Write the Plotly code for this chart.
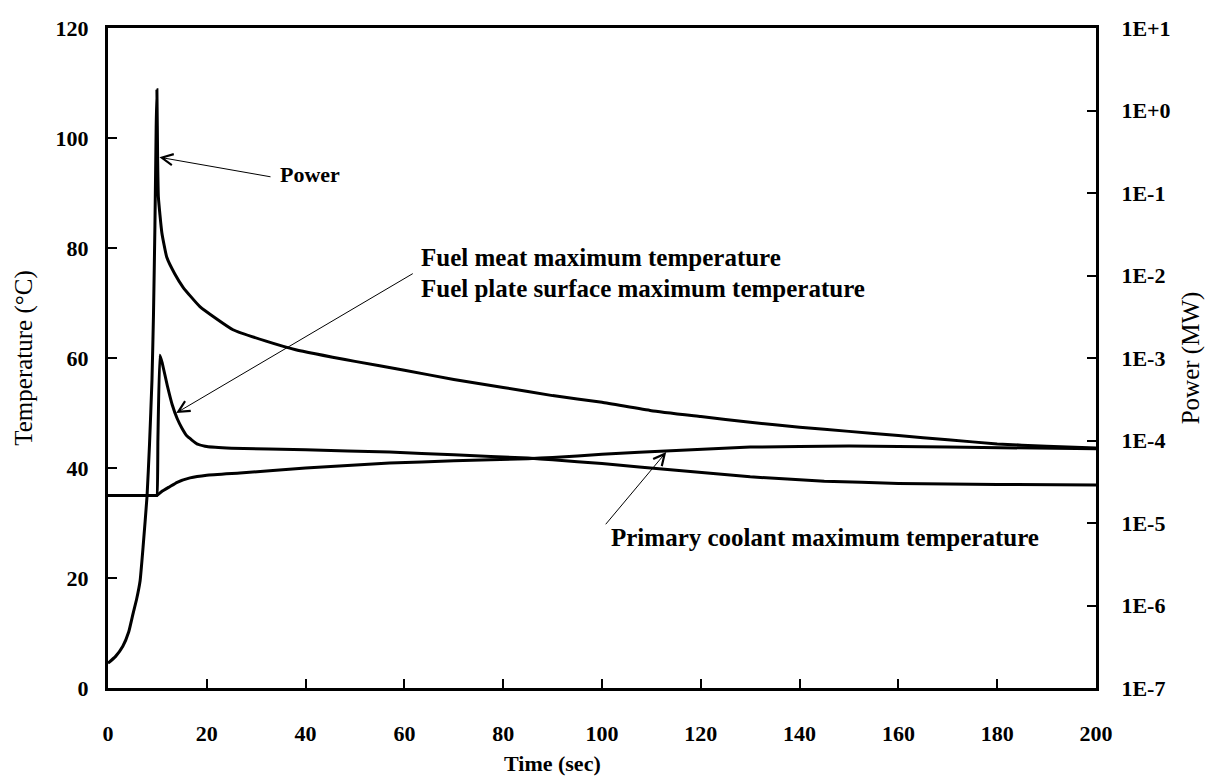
import plotly.graph_objects as go

# ---- data ----
time_power = [0, 1.5, 3.0, 4.2, 5.1, 5.8, 6.5, 7.1, 7.9, 8.4, 8.9, 9.2, 9.5, 9.75, 9.9,
              10.05, 10.2, 10.9, 11.9, 13.5, 15.2, 18.6, 25.3, 32, 38, 50, 60, 70, 80,
              90, 100, 110, 120, 130, 140, 150, 160, 170, 180, 190, 200]
power_mw = [2.0e-7, 2.4e-7, 3.2e-7, 4.8e-7, 8.1e-7, 1.2e-6, 2.0e-6, 5.1e-6, 2.1e-5, 8.9e-5,
            5.4e-4, 3.2e-3, 4.0e-2, 0.63, 1.78,
            0.25, 0.089, 0.033, 0.0166, 0.0105, 7.2e-3, 4.2e-3, 2.2e-3, 1.6e-3, 1.26e-3,
            9.1e-4, 7.1e-4, 5.5e-4, 4.4e-4, 3.5e-4, 2.9e-4, 2.3e-4, 1.95e-4, 1.66e-4,
            1.45e-4, 1.29e-4, 1.15e-4, 1.02e-4, 9.1e-5, 8.5e-5, 8.1e-5]

time_fuel = [0, 5, 9.5, 9.9, 10.1, 10.5, 11, 12, 13, 14, 15, 16, 18, 20, 25, 40, 57, 70,
             85, 90, 100, 115, 130, 145, 160, 180, 200]
fuel_temp = [35, 35, 35, 35, 45, 60.5, 59, 55, 51.5, 49, 47.2, 45.8, 44.4, 43.9, 43.6, 43.3,
             42.9, 42.4, 41.8, 41.5, 40.8, 39.6, 38.4, 37.6, 37.2, 37.0, 36.9]

time_cool = [0, 5, 9.5, 9.9, 11, 12.5, 14, 16.6, 20, 26.7, 40, 57, 70, 85, 90, 100, 115,
             130, 150, 170, 200]
cool_temp = [35, 35, 35, 35, 35.8, 36.6, 37.4, 38.2, 38.7, 39.1, 40.0, 40.9, 41.3, 41.7,
             41.9, 42.5, 43.2, 43.8, 44.0, 43.8, 43.5]

x_ticks = [0, 20, 40, 60, 80, 100, 120, 140, 160, 180, 200]
temp_ticks = [0, 20, 40, 60, 80, 100, 120]
power_ticks = [1e-7, 1e-6, 1e-5, 1e-4, 1e-3, 1e-2, 1e-1, 1e0, 1e1]
power_ticktext = ["1E-7", "1E-6", "1E-5", "1E-4", "1E-3", "1E-2", "1E-1", "1E+0", "1E+1"]

FONT = "Liberation Serif"
LW = 3

fig = go.Figure()
fig.add_trace(go.Scatter(x=time_power, y=power_mw, yaxis="y2", mode="lines",
                         line=dict(color="black", width=LW, shape="spline", smoothing=0.4),
                         name="Power"))
fig.add_trace(go.Scatter(x=time_fuel, y=fuel_temp, mode="lines",
                         line=dict(color="black", width=LW, shape="spline", smoothing=0.3),
                         name="Fuel"))
fig.add_trace(go.Scatter(x=time_cool, y=cool_temp, mode="lines",
                         line=dict(color="black", width=LW, shape="spline", smoothing=0.3),
                         name="Coolant"))

axis_common = dict(showline=True, linecolor="black", linewidth=LW, ticks="inside",
                   ticklen=9, tickwidth=2, tickcolor="black", showgrid=False,
                   zeroline=False)

fig.update_layout(
    width=1215, height=783,
    margin=dict(l=108, r=119, t=28, b=95),
    paper_bgcolor="white", plot_bgcolor="white",
    showlegend=False,
    font=dict(family=FONT, color="black"),
    xaxis=dict(range=[0, 200], tickvals=x_ticks, mirror=True,
               tickfont=dict(family=FONT, size=22, weight="bold"),
               ticklabelstandoff=24,
               **axis_common),
    yaxis=dict(range=[0, 120], tickvals=temp_ticks,
               tickfont=dict(family=FONT, size=22, weight="bold"),
               ticklabelstandoff=12,
               title=dict(text="Temperature (°C)", font=dict(family=FONT, size=25),
                          standoff=16),
               **axis_common),
    yaxis2=dict(type="log", range=[-7, 1], overlaying="y", side="right",
                tickvals=power_ticks, ticktext=power_ticktext,
                tickfont=dict(family=FONT, size=22, weight="bold"),
                ticklabelstandoff=18,
                title=dict(text="Power (MW)", font=dict(family=FONT, size=25),
                           standoff=12),
                **axis_common),
)

# x-axis title (sits left of centre in the reference)
fig.add_annotation(x=90, y=-0.115, xref="x", yref="paper", text="<b>Time (sec)</b>",
                   showarrow=False, xanchor="center", yanchor="middle",
                   font=dict(family=FONT, size=22))

ann_font = dict(family=FONT, size=25, color="black")

# text labels
fig.add_annotation(x=34.4, y=93.3, text="<b>Power</b>", showarrow=False,
                   xanchor="left", yanchor="middle", font=dict(family=FONT, size=22))
fig.add_annotation(x=63.0, y=78.2, text="<b>Fuel meat maximum temperature</b>",
                   showarrow=False, xanchor="left", yanchor="middle", font=ann_font)
fig.add_annotation(x=63.0, y=72.6, text="<b>Fuel plate surface maximum temperature</b>",
                   showarrow=False, xanchor="left", yanchor="middle", font=ann_font)
fig.add_annotation(x=101.5, y=27.4, text="<b>Primary coolant maximum temperature</b>",
                   showarrow=False, xanchor="left", yanchor="middle", font=ann_font)

# arrows
arrow = dict(showarrow=True, arrowhead=5, arrowsize=2.2, arrowwidth=1,
             arrowcolor="black", axref="x", ayref="y", text="", standoff=0)
fig.add_annotation(x=10.4, y=96.5, ax=33.2, ay=92.9, **arrow)
fig.add_annotation(x=13.8, y=50.0, ax=62.0, ay=75.5, **arrow)
fig.add_annotation(x=113.0, y=42.9, ax=100.5, ay=29.5, **arrow)

fig.write_html("out.html")
